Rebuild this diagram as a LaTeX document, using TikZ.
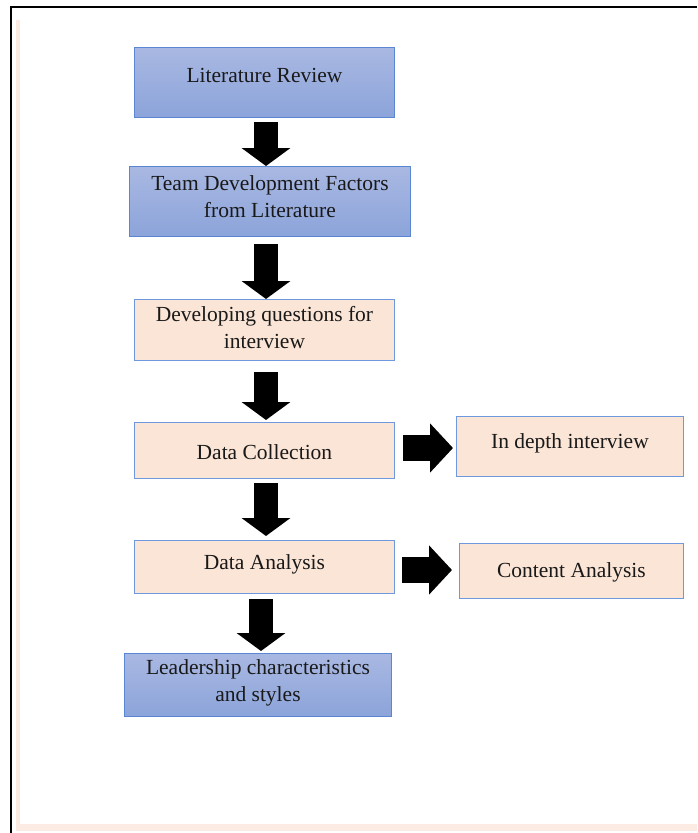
\documentclass[tikz,border=0pt]{standalone}
\usepackage{fontspec}
\setmainfont{Liberation Serif}
\usetikzlibrary{arrows.meta,calc}
\definecolor{bluetop}{HTML}{A9B8E2}
\definecolor{bluebot}{HTML}{8CA4DA}
\definecolor{blueedge}{HTML}{5B86D2}
\definecolor{peach}{HTML}{FBE5D6}
\definecolor{peachedge}{HTML}{6F99DF}
\definecolor{shadowpeach}{HTML}{FBEBE2}
\tikzset{
  boxbase/.style={rectangle, inner sep=0pt, anchor=north west, line width=0.9pt},
  bluebox/.style={boxbase, draw=blueedge, top color=bluetop, bottom color=bluebot},
  peachbox/.style={boxbase, draw=peachedge, fill=peach},
  txt/.style={font=\fontsize{21.5}{27}\selectfont, align=center, inner sep=0pt, text=black!90},
  downarrow/.style={line width=24pt, -{Triangle[width=48pt,length=18pt]}, black},
  rightarrow/.style={line width=26pt, -{Triangle[width=48pt,length=23pt]}, black}
}
\begin{document}
\begin{tikzpicture}[x=1pt,y=-1pt]
\useasboundingbox (0,0) rectangle (697,833);
% page frame
\fill[shadowpeach] (16,20) rectangle (697,831);
\fill[white] (20,20) rectangle (697,824);
\draw[black, line width=1.2pt] (11,833) -- (11,7) -- (697,7);

% boxes
\node[bluebox, minimum width=260pt, minimum height=70pt] (lit) at (134,47) {};
\node[bluebox, minimum width=281pt, minimum height=70pt] (team) at (129,166) {};
\node[peachbox, minimum width=260pt, minimum height=61pt] (quest) at (134,299) {};
\node[peachbox, minimum width=260pt, minimum height=56pt] (coll) at (134,422) {};
\node[peachbox, minimum width=227pt, minimum height=60pt] (indepth) at (456,416) {};
\node[peachbox, minimum width=260pt, minimum height=53pt] (anal) at (134,540) {};
\node[peachbox, minimum width=224pt, minimum height=55pt] (content) at (459,543) {};
\node[bluebox, minimum width=267pt, minimum height=63pt] (lead) at (124,653) {};

% texts
\node[txt] (lit-t) at ($(lit.center)+(0,-7)$) {Literature Review};
\node[txt] (team-t) at ($(team.center)+(0,-5)$) {Team Development Factors\\from Literature};
\node[txt] (quest-t) at ($(quest.center)+(0,-2)$) {Developing questions for\\interview};
\node[txt] (coll-t) at ($(coll.center)+(0,2)$) {Data Collection};
\node[txt] (indepth-t) at ($(indepth.center)+(0,-3)$) {In depth interview};
\node[txt] (anal-t) at ($(anal.center)+(0,-3)$) {Data Analysis};
\node[txt] (content-t) at ($(content.center)+(0,1)$) {Content Analysis};
\node[txt] (lead-t) at ($(lead.center)+(0,-2)$) {Leadership characteristics\\and styles};

% arrow axes
\coordinate (ax) at (266,0);
\coordinate (ax5) at (261,0);
\coordinate (ay1) at (0,448);
\coordinate (ay2) at (0,570);

% down arrows
\draw[downarrow, shorten <=4pt] (lit.south -| ax) -- (team.north -| ax);
\draw[downarrow, shorten <=7pt] (team.south -| ax) -- (quest.north -| ax);
\draw[downarrow, shorten <=11pt, shorten >=2pt] (quest.south -| ax) -- (coll.north -| ax);
\draw[downarrow, shorten <=4pt, shorten >=4pt] (coll.south -| ax) -- (anal.north -| ax);
\draw[downarrow, shorten <=5pt, shorten >=2pt] (anal.south -| ax5) -- (lead.north -| ax5);

% right arrows
\draw[rightarrow, shorten <=8pt, shorten >=3pt] (coll.east |- ay1) -- (indepth.west |- ay1);
\draw[rightarrow, shorten <=7pt, shorten >=7pt] (anal.east |- ay2) -- (content.west |- ay2);
\end{tikzpicture}
\end{document}
